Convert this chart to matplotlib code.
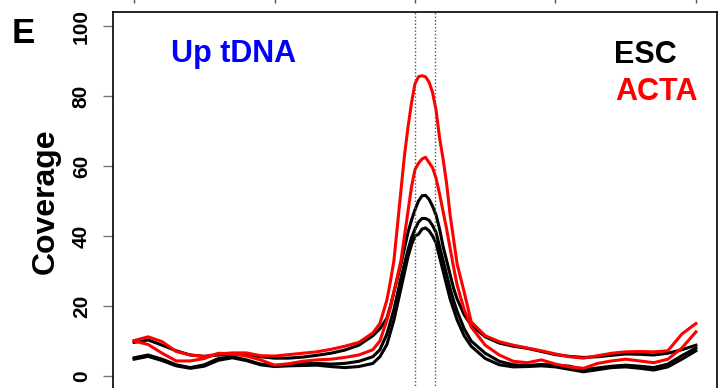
import matplotlib
matplotlib.use('Agg')
import matplotlib.pyplot as plt

plt.rcParams['font.family'] = ['Liberation Sans', 'DejaVu Sans']

# position relative to tDNA start (bp)
pos = [-2000, -1900, -1800, -1700, -1600, -1500, -1400, -1300, -1200, -1100,
       -1000, -900, -800, -700, -600, -500, -400, -300, -250,
       -200, -175, -150, -125, -100, -75, -50, -25,
       0, 25, 50, 75, 100, 125, 150, 175,
       200, 225, 250, 275, 300, 350, 400,
       500, 600, 700, 800, 900, 1000, 1100, 1200,
       1300, 1400, 1500, 1600, 1700, 1800, 1900, 2000]

# ESC replicates (black)
esc_1 = [9.6, 10.3, 8.8, 7.2, 6.0, 5.6, 6.0, 6.3, 6.0, 5.5,
         5.1, 5.1, 5.4, 5.9, 6.5, 7.4, 8.8, 11.5, 13.5,
         16.5, 20, 24, 28, 32, 36.5, 41, 44.5,
         47.5, 50, 51.5, 51.6, 50.5, 48.5, 46, 42,
         37, 33, 29, 25, 22, 17.5, 14.5,
         11.2, 9.4, 8.5, 7.9, 7.0, 6.1, 5.6, 5.3,
         5.5, 5.9, 6.3, 6.2, 6.0, 6.5, 7.5, 8.8]
esc_2 = [5.2, 6.0, 4.8, 3.2, 2.4, 3.2, 5.0, 5.5, 4.6, 3.4,
         3.0, 3.3, 3.5, 3.6, 3.4, 3.6, 4.2, 5.5, 7.5,
         12, 15.5, 19, 23.5, 28, 32, 36, 39.5,
         42, 44, 45, 45, 44.5, 43, 41, 37,
         33, 29, 25, 21.5, 18.5, 13.5, 10,
         6.5, 4.2, 3.2, 3.0, 3.3, 3.1, 2.8, 1.8,
         2.3, 2.8, 3.1, 2.8, 2.4, 3.4, 5.8, 8.0]
esc_3 = [4.8, 5.6, 4.4, 2.9, 2.2, 2.8, 4.5, 5.2, 4.4, 3.2,
         2.7, 2.9, 3.0, 3.1, 2.7, 2.4, 2.7, 3.6, 5.5,
         9, 12.5, 16, 20.5, 25, 29.5, 34, 37.5,
         40, 40.5, 42, 42.3, 41.5, 40, 38, 34,
         30, 26, 22, 19, 16, 11.5, 8.5,
         5.0, 3.2, 2.6, 2.7, 2.9, 2.6, 1.9, 1.2,
         1.8, 2.4, 2.6, 2.2, 1.7, 2.6, 4.8, 7.2]

# ACTA replicates (red)
acta_1 = [10.1, 11.2, 9.8, 7.0, 6.0, 5.6, 6.3, 6.6, 6.6, 5.8,
          5.7, 6.1, 6.5, 6.9, 7.6, 8.5, 9.6, 12.3, 15,
          21.7, 27, 33, 43, 53, 63, 71, 78,
          83.5, 85.5, 85.8, 85.5, 84, 81, 76, 68,
          62, 55, 46, 39, 32, 24, 15.5,
          11.5, 9.8, 8.8, 8.0, 7.2, 6.3, 5.5, 5.1,
          5.8, 6.5, 6.9, 7.0, 6.9, 7.2, 12, 15]
acta_2 = [10.0, 9.0, 6.5, 4.3, 4.3, 5.0, 6.5, 6.3, 5.7, 4.6,
          3.1, 3.5, 4.2, 4.6, 4.8, 5.3, 6.0, 7.5, 10,
          16, 19.5, 24, 28.5, 33, 40, 47, 54,
          59, 60.8, 62, 62.5, 61, 59.5, 56.5, 52,
          47, 42, 36.5, 31, 26, 19, 14,
          8.8, 6.0, 4.2, 3.8, 4.6, 3.4, 2.6, 2.2,
          3.6, 4.3, 4.8, 4.3, 3.8, 4.8, 8.0, 12.6]

tdna = [0, 145]
top_ticks = [-2000, -1000, 0, 1000, 2000]
yticks = [0, 20, 40, 60, 80, 100]

fig = plt.figure(figsize=(7.19, 3.88), dpi=100)
ax = fig.add_axes([113/719, -2/388, 604/719, 378/388])

for s in [esc_1, esc_2, esc_3]:
    ax.plot(pos, s, color='black', lw=2.2)
for s in [acta_1, acta_2]:
    ax.plot(pos, s, color='red', lw=2.2)

for t in tdna:
    ax.axvline(t, color='#555555', ls=(0, (1, 1.5)), lw=1)

ax.set_xlim(-2150, 2150)
ax.set_ylim(-4, 104)
ax.set_xticks([])
ax.set_yticks(yticks)
ax.set_yticklabels([str(v) for v in yticks], rotation=90, va='center',
                   fontsize=15, fontweight='bold')
ax.tick_params(axis='y', length=7, width=1, color='#777777', pad=9)
for sp in ax.spines.values():
    sp.set_linewidth(1.2)

ax.set_ylabel('Coverage', fontsize=23, fontweight='bold', labelpad=8)

# ticks of the panel above
sec = ax.secondary_xaxis(1 + 9/378)
sec.set_xticks(top_ticks)
sec.set_xticklabels([])
sec.tick_params(length=6, width=1, color='#555555')
sec.spines['top'].set_visible(False)

fig.text(12/719, 1 - 43/388, 'E', fontsize=25, fontweight='bold')
fig.text(171/719, 1 - 62/388, 'Up tDNA', fontsize=22, fontweight='bold', color='blue')
fig.text(614/719, 1 - 63/388, 'ESC', fontsize=22, fontweight='bold', color='black')
fig.text(615/719, 1 - 100/388, 'ACTA', fontsize=22, fontweight='bold', color='red')

fig.savefig('out.png', dpi=100)
